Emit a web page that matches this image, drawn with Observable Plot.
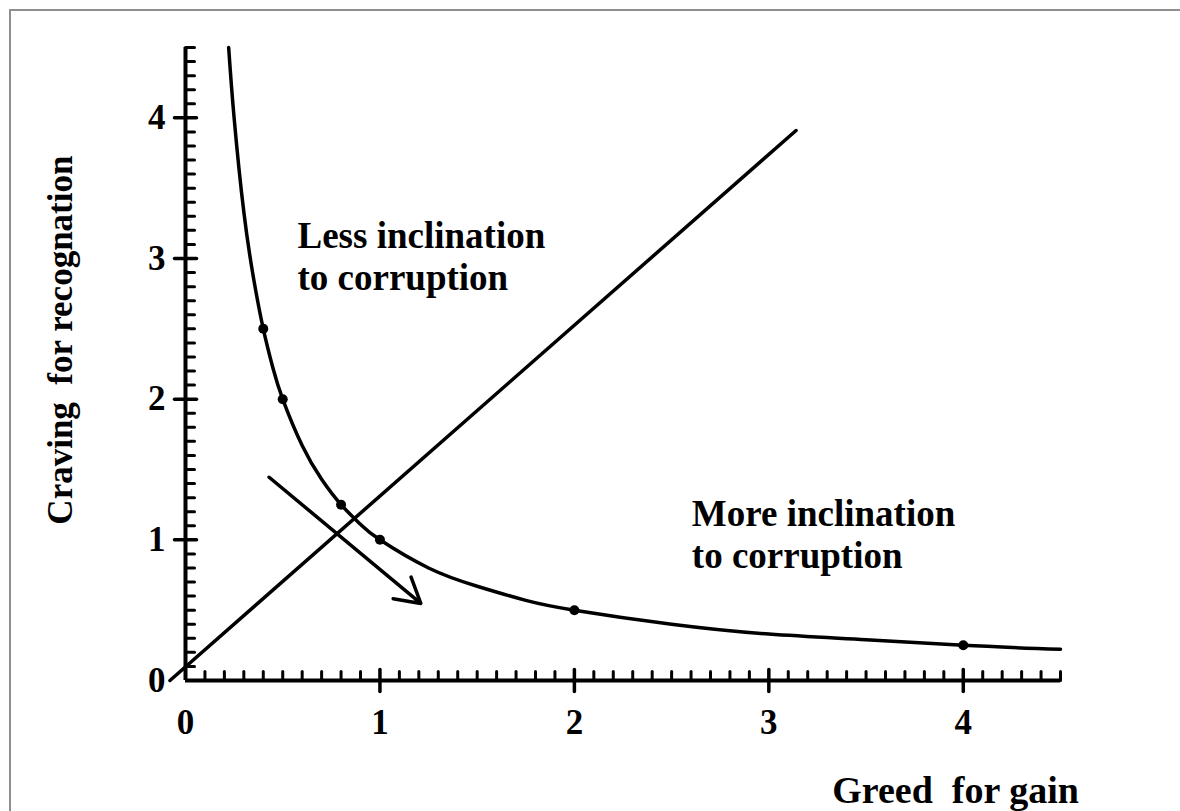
<!DOCTYPE html>
<html>
<head>
<meta charset="utf-8">
<script src="https://cdn.jsdelivr.net/npm/d3@7"></script>
<script src="https://cdn.jsdelivr.net/npm/@observablehq/plot@0.6"></script>
<style>
  html, body { margin: 0; padding: 0; background: #fff; overflow: hidden; }
  #wrap { position: relative; width: 1180px; height: 811px; }
  #border { position: absolute; left: 9px; top: 9px; width: 1300px; height: 1000px; border: 2px solid #8f8f8f; box-sizing: border-box; pointer-events: none; }
  #chart { position: absolute; left: 0; top: 0; }
</style>
</head>
<body>
<div id="wrap"><div id="border"></div><div id="chart"></div></div>
<script>
// Indifference curve (Craving x Greed = const)
const curveX = [0.222, 0.25, 0.3, 0.35, 0.4, 0.45, 0.5, 0.6, 0.7, 0.8, 0.9, 1, 1.25, 1.5, 1.75, 2, 2.5, 3, 3.5, 4, 4.5];
const curveY = [4.5, 4.0, 3.33, 2.86, 2.5, 2.22, 2.0, 1.67, 1.43, 1.25, 1.11, 1.0, 0.8, 0.67, 0.57, 0.5, 0.4, 0.33, 0.29, 0.25, 0.222];
// marked points on the curve
const pointX = [0.4, 0.5, 0.8, 1, 2, 4];
const pointY = [2.5, 2, 1.25, 1, 0.5, 0.25];
// straight line
const lineX = [-0.08, 3.14];
const lineY = [0, 3.91];
// arrow
const arrowStart = [0.43, 1.445];
const arrowEnd = [1.21, 0.548];
// ticks
const majorTicks = [0, 1, 2, 3, 4];
const minorTicks = d3.range(1, 46).map(i => i / 10).filter(v => Math.abs(v - Math.round(v)) > 1e-9);
// texts
const labelLess = "Less inclination\nto corruption";
const labelMore = "More inclination\nto corruption";
const xTitle = "Greed  for gain";
const yTitle = "Craving  for recognation";

const curve = curveX.map((x, i) => ({x, y: curveY[i]}));
const pts = pointX.map((x, i) => ({x, y: pointY[i]}));
const line = lineX.map((x, i) => ({x, y: lineY[i]}));

const tickShape = { draw(context, l) { context.moveTo(0, 0); context.lineTo(0, -l); } };
const font = "'Liberation Serif', 'Times New Roman', serif";

const chart = Plot.plot({
  width: 1180,
  height: 811,
  marginLeft: 185,
  marginRight: 120,
  marginTop: 47,
  marginBottom: 131,
  x: { domain: [0, 4.5], axis: null },
  y: { domain: [0, 4.5], axis: null },
  style: { fontFamily: font, background: "transparent", overflow: "visible" },
  marks: [
    // axis lines
    Plot.ruleY([0], { x1: 0, x2: 4.5, stroke: "black", strokeWidth: 4 }),
    Plot.ruleX([0], { y1: 0, y2: 4.5, stroke: "black", strokeWidth: 4 }),
    // minor ticks (inward)
    Plot.vector(minorTicks, { x: d => d, y: 0, length: 9, rotate: 0, anchor: "start", shape: tickShape, stroke: "black", strokeWidth: 3 }),
    Plot.vector(minorTicks, { x: 0, y: d => d, length: 9, rotate: 90, anchor: "start", shape: tickShape, stroke: "black", strokeWidth: 3 }),
    // major ticks (crossing)
    Plot.vector(majorTicks.slice(1), { x: d => d, y: 0, length: 22, rotate: 0, anchor: "middle", shape: tickShape, stroke: "black", strokeWidth: 3.5 }),
    Plot.vector(majorTicks.slice(1), { x: 0, y: d => d, length: 22, rotate: 90, anchor: "middle", shape: tickShape, stroke: "black", strokeWidth: 3.5 }),
    // tick labels
    Plot.text(majorTicks, { x: d => d, y: 0, text: d => String(d), dy: 42, fontSize: 35, fontWeight: "bold", fill: "black" }),
    Plot.text(majorTicks, { x: 0, y: d => d, text: d => String(d), dx: -20, textAnchor: "end", fontSize: 35, fontWeight: "bold", fill: "black" }),
    // straight line
    Plot.line(line, { x: "x", y: "y", stroke: "black", strokeWidth: 3.5 }),
    // curve
    Plot.line(curve, { x: "x", y: "y", stroke: "black", strokeWidth: 3.5, curve: "natural" }),
    Plot.dot(pts, { x: "x", y: "y", r: 5, fill: "black" }),
    // arrow
    Plot.arrow([0], { x1: arrowStart[0], y1: arrowStart[1], x2: arrowEnd[0], y2: arrowEnd[1], stroke: "black", strokeWidth: 3.5, headLength: 12, headAngle: 60 }),
    // annotations
    Plot.text([labelLess], { x: 0.576, y: 3.29, text: d => d, textAnchor: "start", lineAnchor: "top", lineHeight: 1.14, fontSize: 37, fontWeight: "bold", fill: "black" }),
    Plot.text([labelMore], { x: 2.604, y: 1.31, text: d => d, textAnchor: "start", lineAnchor: "top", lineHeight: 1.14, fontSize: 37, fontWeight: "bold", fill: "black" }),
    // axis titles
    Plot.text([xTitle], { x: 3.96, y: 0, dy: 122, text: d => d, lineAnchor: "bottom", fontSize: 38, fontWeight: "bold", fill: "black" }),
    Plot.text([yTitle], { x: 0, y: 2.42, dx: -125, text: d => d, rotate: -90, fontSize: 35, fontWeight: "bold", fill: "black" })
  ]
});
document.getElementById("chart").appendChild(chart);
</script>
</body>
</html>
